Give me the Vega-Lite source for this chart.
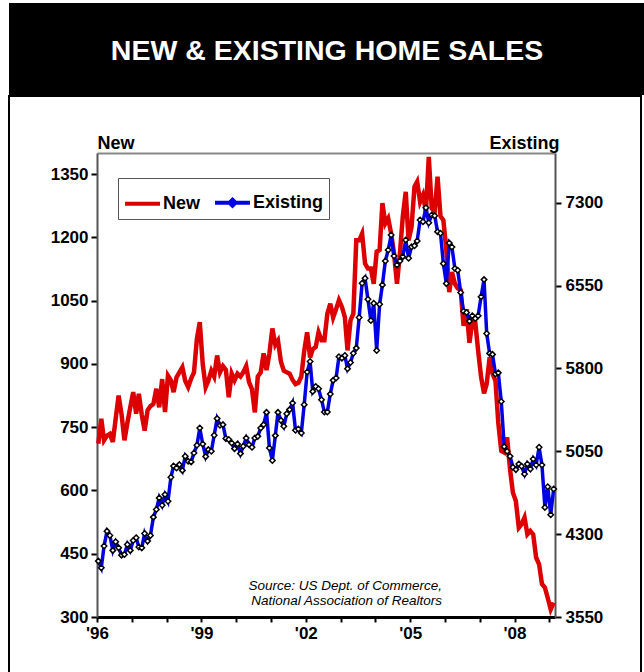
{
  "$schema": "https://vega.github.io/schema/vega-lite/v6.json",
  "padding": {"left": 8, "top": 3, "right": 0, "bottom": 0},
  "background": "white",
  "spacing": 0,
  "config": {
    "font": "Liberation Sans",
    "view": {"stroke": null},
    "axis": {"labelFont": "Liberation Sans", "titleFont": "Liberation Sans"},
    "legend": {"labelFont": "Liberation Sans", "orient": "none", "legendX": 109, "legendY": 175}
  },
  "datasets": {
    "sales": [
      {"d":"1996-01-15","n":711,"e":4056},{"d":"1996-02-15","n":770,"e":3995},{"d":"1996-03-15","n":719,"e":4192},{"d":"1996-04-15","n":730,"e":4327},{"d":"1996-05-15","n":734,"e":4288},{"d":"1996-06-15","n":715,"e":4153},{"d":"1996-07-15","n":770,"e":4231},{"d":"1996-08-15","n":825,"e":4176},{"d":"1996-09-15","n":780,"e":4110},{"d":"1996-10-15","n":719,"e":4116},{"d":"1996-11-15","n":760,"e":4207},{"d":"1996-12-15","n":797,"e":4153},
      {"d":"1997-01-15","n":833,"e":4243},{"d":"1997-02-15","n":782,"e":4267},{"d":"1997-03-15","n":829,"e":4183},{"d":"1997-04-15","n":780,"e":4176},{"d":"1997-05-15","n":742,"e":4306},{"d":"1997-06-15","n":790,"e":4237},{"d":"1997-07-15","n":800,"e":4288},{"d":"1997-08-15","n":805,"e":4454},{"d":"1997-09-15","n":841,"e":4523},{"d":"1997-10-15","n":797,"e":4628},{"d":"1997-11-15","n":864,"e":4562},{"d":"1997-12-15","n":786,"e":4658},
      {"d":"1998-01-15","n":872,"e":4598},{"d":"1998-02-15","n":861,"e":4815},{"d":"1998-03-15","n":833,"e":4917},{"d":"1998-04-15","n":868,"e":4899},{"d":"1998-05-15","n":880,"e":4929},{"d":"1998-06-15","n":892,"e":4877},{"d":"1998-07-15","n":860,"e":5005},{"d":"1998-08-15","n":845,"e":4960},{"d":"1998-09-15","n":865,"e":4954},{"d":"1998-10-15","n":880,"e":5035},{"d":"1998-11-15","n":960,"e":5104},{"d":"1998-12-15","n":999,"e":5261},
      {"d":"1999-01-15","n":900,"e":5116},{"d":"1999-02-15","n":845,"e":5002},{"d":"1999-03-15","n":860,"e":5065},{"d":"1999-04-15","n":884,"e":5050},{"d":"1999-05-15","n":870,"e":5195},{"d":"1999-06-15","n":920,"e":5346},{"d":"1999-07-15","n":880,"e":5285},{"d":"1999-08-15","n":895,"e":5291},{"d":"1999-09-15","n":886,"e":5165},{"d":"1999-10-15","n":821,"e":5156},{"d":"1999-11-15","n":877,"e":5125},{"d":"1999-12-15","n":861,"e":5074},
      {"d":"2000-01-15","n":877,"e":5116},{"d":"2000-02-15","n":870,"e":5029},{"d":"2000-03-15","n":880,"e":5095},{"d":"2000-04-15","n":895,"e":5170},{"d":"2000-05-15","n":857,"e":5110},{"d":"2000-06-15","n":840,"e":5086},{"d":"2000-07-15","n":785,"e":5170},{"d":"2000-08-15","n":870,"e":5185},{"d":"2000-09-15","n":880,"e":5261},{"d":"2000-10-15","n":925,"e":5291},{"d":"2000-11-15","n":885,"e":5402},{"d":"2000-12-15","n":925,"e":5080},
      {"d":"2001-01-15","n":984,"e":4966},{"d":"2001-02-15","n":945,"e":5192},{"d":"2001-03-15","n":955,"e":5402},{"d":"2001-04-15","n":905,"e":5330},{"d":"2001-05-15","n":884,"e":5276},{"d":"2001-06-15","n":880,"e":5390},{"d":"2001-07-15","n":877,"e":5427},{"d":"2001-08-15","n":862,"e":5487},{"d":"2001-09-15","n":852,"e":5240},{"d":"2001-10-15","n":855,"e":5252},{"d":"2001-11-15","n":870,"e":5216},{"d":"2001-12-15","n":930,"e":5472},
      {"d":"2002-01-15","n":975,"e":5767},{"d":"2002-02-15","n":915,"e":5863},{"d":"2002-03-15","n":935,"e":5592},{"d":"2002-04-15","n":940,"e":5637},{"d":"2002-05-15","n":975,"e":5616},{"d":"2002-06-15","n":956,"e":5517},{"d":"2002-07-15","n":956,"e":5405},{"d":"2002-08-15","n":1019,"e":5405},{"d":"2002-09-15","n":1043,"e":5568},{"d":"2002-10-15","n":1010,"e":5692},{"d":"2002-11-15","n":1030,"e":5713},{"d":"2002-12-15","n":1051,"e":5906},
      {"d":"2003-01-15","n":1035,"e":5893},{"d":"2003-02-15","n":1011,"e":5917},{"d":"2003-03-15","n":932,"e":5797},{"d":"2003-04-15","n":1003,"e":5854},{"d":"2003-05-15","n":1019,"e":5938},{"d":"2003-06-15","n":1193,"e":5984},{"d":"2003-07-15","n":1193,"e":6261},{"d":"2003-08-15","n":1209,"e":6571},{"d":"2003-09-15","n":1138,"e":6616},{"d":"2003-10-15","n":1126,"e":6426},{"d":"2003-11-15","n":1126,"e":6234},{"d":"2003-12-15","n":1090,"e":6390},
      {"d":"2004-01-15","n":1166,"e":5963},{"d":"2004-02-15","n":1170,"e":6381},{"d":"2004-03-15","n":1281,"e":6556},{"d":"2004-04-15","n":1233,"e":6773},{"d":"2004-05-15","n":1245,"e":6872},{"d":"2004-06-15","n":1209,"e":7008},{"d":"2004-07-15","n":1162,"e":6818},{"d":"2004-08-15","n":1090,"e":6737},{"d":"2004-09-15","n":1162,"e":6773},{"d":"2004-10-15","n":1249,"e":6812},{"d":"2004-11-15","n":1308,"e":6963},{"d":"2004-12-15","n":1193,"e":6797},
      {"d":"2005-01-15","n":1225,"e":6902},{"d":"2005-02-15","n":1320,"e":6911},{"d":"2005-03-15","n":1332,"e":6954},{"d":"2005-04-15","n":1284,"e":7144},{"d":"2005-05-15","n":1300,"e":7128},{"d":"2005-06-15","n":1261,"e":7255},{"d":"2005-07-15","n":1391,"e":7119},{"d":"2005-08-15","n":1269,"e":7189},{"d":"2005-09-15","n":1261,"e":7182},{"d":"2005-10-15","n":1344,"e":7038},{"d":"2005-11-15","n":1250,"e":7023},{"d":"2005-12-15","n":1241,"e":6749},
      {"d":"2006-01-15","n":1170,"e":6568},{"d":"2006-02-15","n":1070,"e":6936},{"d":"2006-03-15","n":1118,"e":6899},{"d":"2006-04-15","n":1090,"e":6704},{"d":"2006-05-15","n":1079,"e":6689},{"d":"2006-06-15","n":1075,"e":6487},{"d":"2006-07-15","n":990,"e":6318},{"d":"2006-08-15","n":1030,"e":6306},{"d":"2006-09-15","n":950,"e":6228},{"d":"2006-10-15","n":1000,"e":6276},{"d":"2006-11-15","n":999,"e":6252},{"d":"2006-12-15","n":932,"e":6276},
      {"d":"2007-01-15","n":869,"e":6448},{"d":"2007-02-15","n":830,"e":6604},{"d":"2007-03-15","n":853,"e":6116},{"d":"2007-04-15","n":916,"e":5936},{"d":"2007-05-15","n":877,"e":5927},{"d":"2007-06-15","n":860,"e":5750},{"d":"2007-07-15","n":760,"e":5760},{"d":"2007-08-15","n":694,"e":5500},{"d":"2007-09-15","n":690,"e":5092},{"d":"2007-10-15","n":726,"e":5050},{"d":"2007-11-15","n":650,"e":5005},{"d":"2007-12-15","n":595,"e":4905},
      {"d":"2008-01-15","n":575,"e":4884},{"d":"2008-02-15","n":512,"e":4935},{"d":"2008-03-15","n":520,"e":4914},{"d":"2008-04-15","n":536,"e":4844},{"d":"2008-05-15","n":496,"e":4935},{"d":"2008-06-15","n":504,"e":4890},{"d":"2008-07-15","n":496,"e":4980},{"d":"2008-08-15","n":441,"e":4926},{"d":"2008-09-15","n":425,"e":5086},{"d":"2008-10-15","n":378,"e":4926},{"d":"2008-11-15","n":370,"e":4542},{"d":"2008-12-15","n":345,"e":4729},
      {"d":"2009-01-15","n":318,"e":4475},{"d":"2009-02-15","n":334,"e":4708}
    ],
    "notes": [
      {"d":"2005-12-01","n":373,"t":"Source: US Dept. of Commerce,"},
      {"d":"2005-12-01","n":337,"t":"National Association of Realtors"}
    ]
  },
  "vconcat": [
    {
      "width": 636,
      "height": 92,
      "view": {"fill": "black", "stroke": null},
      "data": {"values": [{"t": "NEW & EXISTING HOME SALES"}]},
      "mark": {"type": "text", "color": "white", "font": "Liberation Sans", "fontWeight": "bold", "fontSize": 28.5, "align": "center", "baseline": "middle", "dy": 2},
      "encoding": {"text": {"field": "t", "type": "nominal"}}
    },
    {
      "width": 632,
      "height": 578,
      "view": {"fill": "white", "stroke": "black", "strokeWidth": 2},
      "data": {"name": "sales"},
      "layer": [
        {
          "layer": [
            {
              "mark": {"type": "line", "strokeWidth": 4.5, "interpolate": "linear"},
              "encoding": {
                "x": {
                  "field": "d", "type": "temporal",
                  "scale": {"type": "utc", "domain": [{"year": 1996, "month": 1, "date": 1, "utc": true}, {"year": 2009, "month": 3, "date": 1, "utc": true}], "range": [88, 546]},
                  "axis": {
                    "orient": "bottom", "offset": -57, "title": null, "grid": false,
                    "values": [
                      {"year": 1996, "month": 1, "date": 1, "utc": true}, {"year": 1997, "month": 1, "date": 1, "utc": true},
                      {"year": 1998, "month": 1, "date": 1, "utc": true}, {"year": 1999, "month": 1, "date": 1, "utc": true},
                      {"year": 2000, "month": 1, "date": 1, "utc": true}, {"year": 2001, "month": 1, "date": 1, "utc": true},
                      {"year": 2002, "month": 1, "date": 1, "utc": true}, {"year": 2003, "month": 1, "date": 1, "utc": true},
                      {"year": 2004, "month": 1, "date": 1, "utc": true}, {"year": 2005, "month": 1, "date": 1, "utc": true},
                      {"year": 2006, "month": 1, "date": 1, "utc": true}, {"year": 2007, "month": 1, "date": 1, "utc": true},
                      {"year": 2008, "month": 1, "date": 1, "utc": true}, {"year": 2009, "month": 1, "date": 1, "utc": true}
                    ],
                    "labelExpr": "utcyear(datum.value) % 3 == 1 ? \"'\" + utcFormat(datum.value, '%y') : ''",
                    "labelOverlap": false, "labelFlush": false,
                    "labelFontSize": 17, "labelFontWeight": "bold", "labelColor": "black", "labelPadding": 3,
                    "domainColor": "black", "domainWidth": 3, "tickColor": "black", "tickWidth": 2, "tickSize": 5
                  }
                },
                "y": {
                  "field": "n", "type": "quantitative",
                  "scale": {"domain": [300, 1400], "range": [521, 57], "nice": false, "zero": false},
                  "axis": {
                    "orient": "left", "offset": -88, "grid": false, "format": "d",
                    "values": [300, 450, 600, 750, 900, 1050, 1200, 1350],
                    "title": "New", "titleAngle": 0, "titleX": 0, "titleY": 52, "titleAlign": "left", "titleBaseline": "alphabetic",
                    "titleFontSize": 18, "titleFontWeight": "bold", "titleColor": "black",
                    "labelFontSize": 17, "labelFontWeight": "bold", "labelColor": "black", "labelPadding": 3, "labelFlush": false,
                    "domainColor": "#555555", "domainWidth": 2, "tickColor": "black", "tickWidth": 2, "tickSize": 6
                  }
                },
                "color": {
                  "datum": "New",
                  "scale": {"domain": ["New", "Existing"], "range": ["#dd0000", "#0000e6"]},
                  "legend": {
                    "orient": "none", "legendX": 109, "legendY": 175, "direction": "horizontal", "title": null,
                    "strokeColor": "#555555", "fillColor": "white", "padding": 5,
                    "labelFontSize": 18, "labelFontWeight": "bold", "labelColor": "black", "labelOffset": 1,
                    "symbolType": "M-1,0H1", "symbolSize": 1225, "symbolStrokeWidth": 4, "columnPadding": 6,
                    "encode": {
                      "symbols": {
                        "update": {
                          "shape": {"signal": "datum.value === 'Existing' ? 'M-1,0H1M0,-0.17L0.17,0L0,0.17L-0.17,0Z' : 'M-1,0H1'"},
                          "fill": {"value": "white"}
                        }
                      }
                    }
                  }
                }
              }
            },
            {
              "data": {"name": "notes"},
              "mark": {"type": "text", "align": "right", "baseline": "middle", "fontStyle": "italic", "fontSize": 13.5, "color": "black", "font": "Liberation Sans"},
              "encoding": {
                "x": {"field": "d", "type": "temporal"},
                "y": {"field": "n", "type": "quantitative"},
                "text": {"field": "t", "type": "nominal"}
              }
            }
          ]
        },
        {
          "layer": [
            {
              "mark": {"type": "line", "strokeWidth": 3.5, "interpolate": "linear"},
              "encoding": {
                "x": {
                  "field": "d", "type": "temporal",
                  "axis": {"orient": "top", "offset": -57, "title": null, "labels": false, "ticks": false, "grid": false, "domainColor": "#888888", "domainWidth": 2}
                },
                "y": {
                  "field": "e", "type": "quantitative",
                  "scale": {"domain": [3550, 7750], "range": [521, 57], "nice": false, "zero": false},
                  "axis": {
                    "orient": "right", "offset": -86, "grid": false, "format": "d",
                    "values": [3550, 4300, 5050, 5800, 6550, 7300],
                    "title": "Existing", "titleAngle": 0, "titleX": 4, "titleY": 52, "titleAlign": "right", "titleBaseline": "alphabetic",
                    "titleFontSize": 18, "titleFontWeight": "bold", "titleColor": "black",
                    "labelFontSize": 17, "labelFontWeight": "bold", "labelColor": "black", "labelPadding": 4, "labelFlush": false,
                    "domainColor": "#555555", "domainWidth": 2, "tickColor": "black", "tickWidth": 2, "tickSize": 6
                  }
                },
                "color": {"datum": "Existing", "legend": {"orient": "none", "legendX": 109, "legendY": 175}}
              }
            },
            {
              "mark": {"type": "point", "shape": "diamond", "filled": true, "fill": "white", "stroke": "black", "strokeWidth": 1.5, "size": 30, "opacity": 1},
              "encoding": {
                "x": {"field": "d", "type": "temporal"},
                "y": {"field": "e", "type": "quantitative"}
              }
            }
          ]
        }
      ],
      "resolve": {"scale": {"y": "independent"}, "axis": {"x": "independent"}}
    }
  ]
}
